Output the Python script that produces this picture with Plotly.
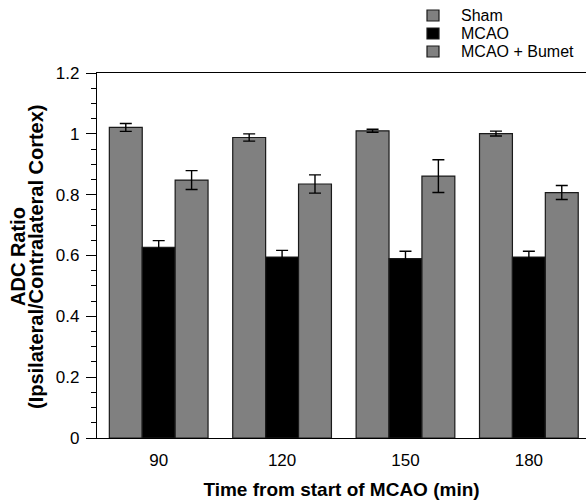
import plotly.graph_objects as go

# Time points after start of MCAO (min)
times = ["90", "120", "150", "180"]

# ADC ratio (ipsilateral / contralateral cortex), mean and error per group
sham = [1.021, 0.988, 1.010, 1.001]
sham_err = [0.013, 0.012, 0.005, 0.008]

mcao = [0.627, 0.595, 0.590, 0.595]
mcao_err = [0.022, 0.022, 0.024, 0.019]

bumet = [0.848, 0.835, 0.861, 0.807]
bumet_err = [0.031, 0.030, 0.054, 0.023]

group_names = ["Sham", "MCAO", "MCAO + Bumet"]

y_ticks = [0, 0.2, 0.4, 0.6, 0.8, 1.0, 1.2]
y_tick_text = ["0", "0.2", "0.4", "0.6", "0.8", "1", "1.2"]

FONT = "Liberation Sans, Arial, Helvetica, sans-serif"
GRAY = "#808080"
OUTLINE = "#1a1a1a"
colors = [GRAY, "black", GRAY]

# Figure geometry (pixels)
W, H = 586, 502
ML, MR, MT, MB = 97, 0, 73, 64
PW, PH = W - ML - MR, H - MT - MB


def px_to_paper(px, py):
    return (px - ML) / PW, (H - MB - py) / PH


fig = go.Figure()

for name, values, errors, color in zip(
        group_names, [sham, mcao, bumet], [sham_err, mcao_err, bumet_err], colors):
    fig.add_trace(go.Bar(
        name=name,
        x=times,
        y=values,
        showlegend=False,
        marker=dict(color=color, line=dict(color=OUTLINE, width=1.2)),
        error_y=dict(type="data", array=errors, visible=True,
                     color="black", thickness=1.4, width=6),
    ))

# Key in the upper right corner: square swatch + label for each group
shapes = []
annotations = []
key_rows_y = [15.5, 33.5, 51.5]
for name, color, ry in zip(group_names, colors, key_rows_y):
    x0, y0 = px_to_paper(427, ry + 5.5)
    x1, y1 = px_to_paper(439, ry - 5.5)
    shapes.append(dict(type="rect", xref="paper", yref="paper",
                       x0=x0, y0=y0, x1=x1, y1=y1,
                       fillcolor=color, line=dict(color=OUTLINE, width=1.2)))
    tx, ty = px_to_paper(459, ry)
    annotations.append(dict(text=name, xref="paper", yref="paper",
                            x=tx, y=ty, xanchor="left", yanchor="middle",
                            showarrow=False, font=dict(size=16, family=FONT)))

# Two-line y-axis title, written as rotated text
_, ty = px_to_paper(0, 257)
for text, cx in [("<b>ADC Ratio</b>", 18), ("<b>(Ipsilateral/Contralateral Cortex)</b>", 36)]:
    ax, _ = px_to_paper(cx, 0)
    annotations.append(dict(text=text, xref="paper", yref="paper",
                            x=ax, y=ty, xanchor="center", yanchor="middle",
                            textangle=-90, showarrow=False,
                            font=dict(size=20, family=FONT)))

fig.update_layout(
    width=W, height=H,
    margin=dict(l=ML, r=MR, t=MT, b=MB),
    paper_bgcolor="white",
    plot_bgcolor="white",
    barmode="group",
    bargap=0.2,
    bargroupgap=0,
    showlegend=False,
    font=dict(family=FONT, color="black", size=17),
    shapes=shapes,
    annotations=annotations,
    xaxis=dict(
        range=[-0.5, 3.463],
        showline=True, linecolor="black", linewidth=1.2,
        mirror=True,
        ticks="", showgrid=False, zeroline=False,
        ticklabelstandoff=6,
        tickfont=dict(size=17, family=FONT),
        title=dict(text="<b>Time from start of MCAO (min)</b>",
                   font=dict(size=19, family=FONT), standoff=14),
    ),
    yaxis=dict(
        range=[0, 1.2],
        tickvals=y_ticks, ticktext=y_tick_text,
        showline=True, linecolor="black", linewidth=1.2,
        ticks="outside", ticklen=10, tickwidth=1, tickcolor="black",
        ticklabelstandoff=3,
        minor=dict(dtick=0.05, ticks="outside", ticklen=5,
                   tickwidth=1, tickcolor="black", showgrid=False),
        showgrid=False, zeroline=False,
        tickfont=dict(size=17, family=FONT),
    ),
)

fig.write_html("out.html")
